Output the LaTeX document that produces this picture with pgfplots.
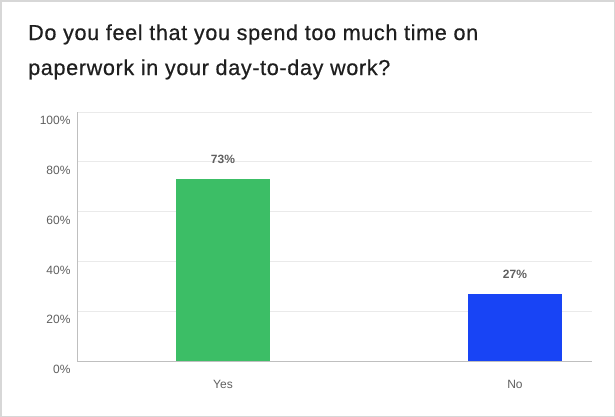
\documentclass[border=0pt]{standalone}
\usepackage{pgfplots}
\pgfplotsset{compat=1.18}
\usepackage{fontspec}
\setmainfont{Liberation Sans}
\newfontfamily\titlefont[LetterSpace=3, FakeBold=0.6]{Liberation Sans}
\definecolor{barGreen}{RGB}{60,190,102}
\definecolor{barBlue}{RGB}{24,68,245}
\definecolor{tickGray}{RGB}{95,95,95}
\definecolor{gridGray}{RGB}{234,234,234}
\definecolor{frameGray}{RGB}{215,215,215}
\begin{document}
\begin{tikzpicture}
\draw[frameGray, line width=1.5bp] (0.75bp,-0.75bp) rectangle (614.25bp,-416.25bp);
\node[anchor=base west, font=\titlefont\fontsize{21.6bp}{24bp}\selectfont, text=black!88, inner sep=0pt] at (28bp,-40bp) {Do you feel that you spend too much time on};
\node[anchor=base west, font=\titlefont\fontsize{21.6bp}{24bp}\selectfont, text=black!88, inner sep=0pt] at (28bp,-75bp) {paperwork in your day-to-day work?};
\begin{axis}[
  at={(77bp,-361bp)}, anchor=south west,
  scale only axis, width=515bp, height=249bp,
  ymin=0, ymax=100, xmin=-0.5, xmax=1.264,
  ytick={0,20,...,100},
  yticklabel={\pgfmathprintnumber{\tick}\%},
  /pgf/number format/assume math mode=true,
  xtick={0,1}, xticklabels={Yes,No},
  ymajorgrids, grid style={gridGray, line width=0.8bp},
  axis x line=bottom, axis y line=left,
  axis line style={-, black!25, line width=0.8bp},
  major tick length=0pt,
  tick label style={font=\fontsize{12bp}{13bp}\selectfont, text=tickGray},
  yticklabel style={xshift=-3bp, yshift=-8.5bp},
  xticklabel style={yshift=-16bp},
  ybar, bar width=94bp, bar shift=0pt,
  nodes near coords={\pgfmathprintnumber{\pgfplotspointmeta}\%},
  nodes near coords style={font=\bfseries\fontsize{12bp}{14bp}\selectfont, text=tickGray, yshift=12bp},
  every node near coord/.append style={/pgf/number format/assume math mode=true},
]
\addplot[fill=barGreen, draw=none, bar shift=0pt] coordinates {(0,73)};
\addplot[fill=barBlue, draw=none, bar shift=0pt] coordinates {(1,27)};
\end{axis}
\end{tikzpicture}
\end{document}
